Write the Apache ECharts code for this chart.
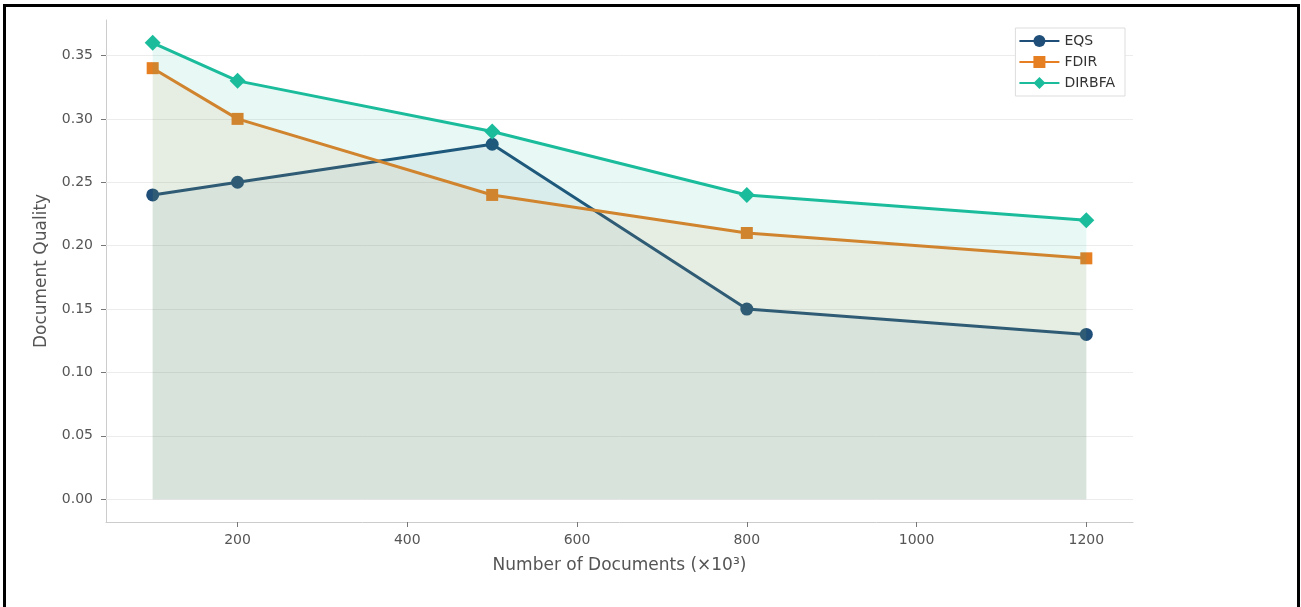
<!DOCTYPE html>
<html>
<head>
<meta charset="utf-8">
<script src="https://cdn.jsdelivr.net/npm/echarts@6/dist/echarts.min.js"></script>
<style>
html,body{margin:0;padding:0;background:#fff;overflow:hidden;}
#chart{position:absolute;left:0;top:0;width:1301px;height:607px;}
#frame{position:absolute;left:3px;top:4px;width:1291px;height:620px;border:3px solid #000;pointer-events:none;}
</style>
</head>
<body>
<div id="chart"></div>
<div id="frame"></div>
<script>
const xValues = [100, 200, 500, 800, 1200];
const eqs = [0.24, 0.25, 0.28, 0.15, 0.13];
const fdir = [0.34, 0.30, 0.24, 0.21, 0.19];
const dirbfa = [0.36, 0.33, 0.29, 0.24, 0.22];
const xTicks = [200, 400, 600, 800, 1000, 1200];
const yTicks = [0, 0.05, 0.10, 0.15, 0.20, 0.25, 0.30, 0.35];
const seriesNames = ['EQS', 'FDIR', 'DIRBFA'];
const colors = ['#1f4e79', '#e67e22', '#1abc9c'];
const symbols = ['circle', 'rect', 'diamond'];
const symbolSizes = [13, 12, 16];
const areaOpacity = [0.07, 0.09, 0.1];
const values = [eqs, fdir, dirbfa];

const font = 'DejaVu Sans';
const chart = echarts.init(document.getElementById('chart'), null, {renderer: 'canvas'});

const series = values.map((vals, i) => ({
  name: seriesNames[i],
  type: 'line',
  data: xValues.map((x, j) => [x, vals[j]]),
  symbol: symbols[i],
  symbolSize: symbolSizes[i],
  z: 3 + i,
  lineStyle: {width: 3, color: colors[i]},
  itemStyle: {color: colors[i]},
  areaStyle: {color: colors[i], opacity: areaOpacity[i], origin: 0},
  emphasis: {disabled: true},
  markLine: i === 0 ? {
    silent: true,
    symbol: 'none',
    label: {show: false},
    z: 1,
    lineStyle: {color: '#ececec', width: 1, type: 'solid'},
    data: yTicks.map(v => ({yAxis: v}))
  } : undefined
}));

chart.setOption({
  animation: false,
  backgroundColor: '#fff',
  color: colors,
  grid: {left: 106, right: 168, top: 20, bottom: 85, containLabel: false},
  legend: {
    orient: 'vertical',
    right: 176,
    top: 28,
    data: seriesNames,
    itemWidth: 40,
    itemHeight: 15,
    itemGap: 7,
    padding: [6, 10, 6, 3],
    borderColor: '#dddddd',
    borderWidth: 1,
    backgroundColor: '#fff',
    textStyle: {fontFamily: font, fontSize: 14, color: '#333'}
  },
  xAxis: {
    type: 'value',
    min: 45,
    max: 1255,
    name: 'Number of Documents (×10³)',
    nameLocation: 'middle',
    nameGap: 35,
    nameTextStyle: {fontFamily: font, fontSize: 17, color: '#555'},
    axisLine: {show: true, onZero: false, lineStyle: {color: '#cccccc', width: 1}},
    axisTick: {show: true, length: 5, customValues: xTicks, lineStyle: {color: '#777'}},
    axisLabel: {customValues: xTicks, fontFamily: font, fontSize: 14, color: '#555', margin: 11,
      formatter: v => String(v)},
    splitLine: {show: false}
  },
  yAxis: {
    type: 'value',
    min: -0.018,
    max: 0.378,
    name: 'Document Quality',
    nameLocation: 'middle',
    nameGap: 56,
    nameTextStyle: {fontFamily: font, fontSize: 17, color: '#555'},
    axisLine: {show: true, lineStyle: {color: '#cccccc', width: 1}},
    axisTick: {show: true, length: 5, customValues: yTicks, lineStyle: {color: '#777'}},
    axisLabel: {customValues: yTicks, fontFamily: font, fontSize: 14, color: '#555', margin: 13,
      formatter: v => v.toFixed(2)},
    splitLine: {show: false}
  },
  series: series
});
</script>
</body>
</html>
